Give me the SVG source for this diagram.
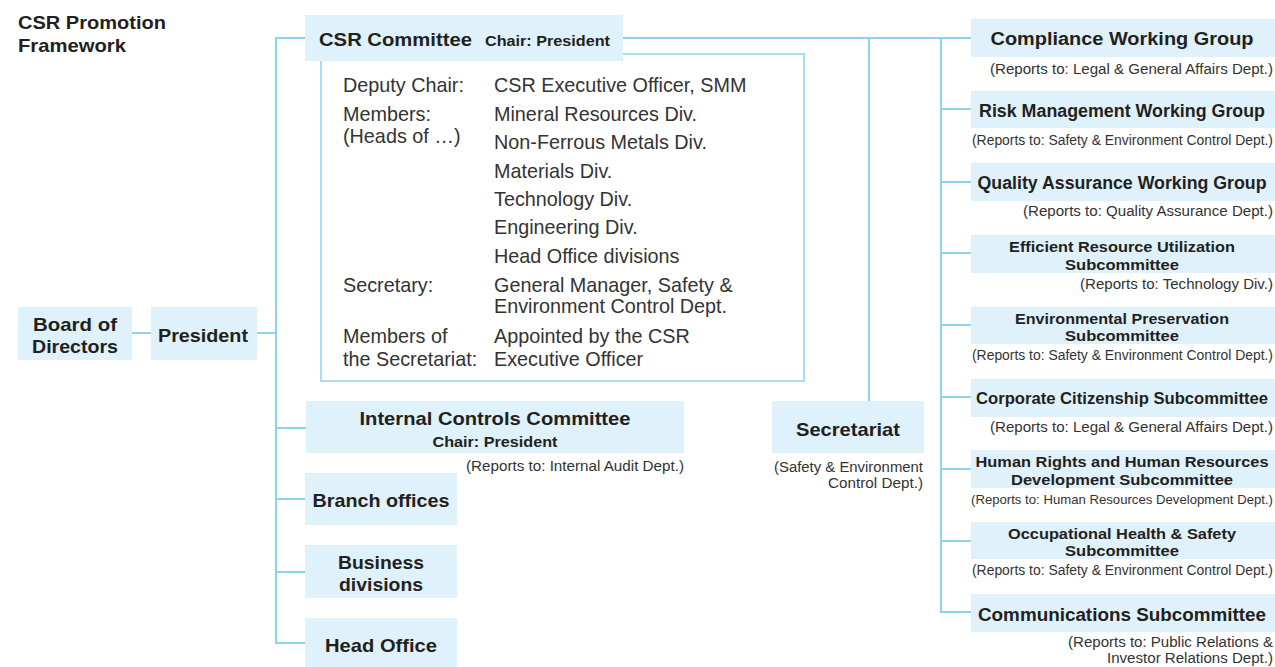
<svg xmlns="http://www.w3.org/2000/svg" width="1275" height="667" viewBox="0 0 1275 667">
  <style>
    text { font-family: "Liberation Sans", Arial, Helvetica, sans-serif; fill: #231f20; }
    .box { fill: #dff1fa; }
    .h { font-weight: bold; font-size: 19px; }
    .hr { font-weight: bold; font-size: 17.5px; }
    .hs { font-weight: bold; font-size: 15.5px; }
    .sub { font-weight: bold; font-size: 15px; }
    .note { font-size: 14px; fill: #333; }
    .body { font-size: 19.8px; fill: #333; }
    .c { text-anchor: middle; }
    .r { text-anchor: end; }
    .ln { stroke: #8ad4f1; stroke-width: 2; fill: none; }
    .frame { stroke: #a6def5; stroke-width: 2; fill: #fff; }
  </style>

  <!-- heading -->
  <g id="title">
    <text class="h" x="18" y="29" textLength="148" lengthAdjust="spacingAndGlyphs">CSR Promotion</text>
    <text class="h" x="18" y="52" textLength="108" lengthAdjust="spacingAndGlyphs">Framework</text>
  </g>

  <!-- connecting lines -->
  <g id="connectors" class="ln">
    <line x1="132" y1="333" x2="151" y2="333"/>
    <line x1="257" y1="333" x2="276" y2="333"/>
    <line x1="276" y1="37" x2="276" y2="644"/>
    <line x1="276" y1="38" x2="305" y2="38"/>
    <line x1="276" y1="428" x2="306" y2="428"/>
    <line x1="276" y1="499" x2="305" y2="499"/>
    <line x1="276" y1="572" x2="305" y2="572"/>
    <line x1="276" y1="643" x2="305" y2="643"/>
    <line x1="623" y1="38" x2="971" y2="38"/>
    <line x1="869" y1="38" x2="869" y2="401"/>
    <line x1="941" y1="38" x2="941" y2="613"/>
    <line x1="941" y1="109" x2="971" y2="109"/>
    <line x1="941" y1="182" x2="971" y2="182"/>
    <line x1="941" y1="253" x2="971" y2="253"/>
    <line x1="941" y1="325" x2="971" y2="325"/>
    <line x1="941" y1="397" x2="971" y2="397"/>
    <line x1="941" y1="469" x2="971" y2="469"/>
    <line x1="941" y1="541" x2="971" y2="541"/>
    <line x1="941" y1="612" x2="971" y2="612"/>
  </g>

  <g id="board">
    <rect class="box" x="18" y="307" width="114" height="53"/>
    <text class="h c" x="75" y="331" textLength="84" lengthAdjust="spacingAndGlyphs">Board of</text>
    <text class="h c" x="75" y="353" textLength="86" lengthAdjust="spacingAndGlyphs">Directors</text>
  </g>

  <g id="president">
    <rect class="box" x="151" y="307" width="106" height="53"/>
    <text class="h c" x="203" y="342" textLength="90" lengthAdjust="spacingAndGlyphs">President</text>
  </g>

  <g id="csr-committee">
    <rect class="frame" x="321" y="54" width="483" height="327"/>
    <rect class="box" x="305" y="15" width="318" height="46"/>
    <text class="h" x="319" y="46" textLength="153" lengthAdjust="spacingAndGlyphs">CSR Committee</text>
    <text class="sub" x="485" y="46" textLength="125" lengthAdjust="spacingAndGlyphs">Chair: President</text>
    <g class="members">
      <text class="body" x="343" y="92">Deputy Chair:</text>
      <text class="body" x="494" y="92">CSR Executive Officer, SMM</text>
      <text class="body" x="343" y="121">Members:</text>
      <text class="body" x="343" y="143">(Heads of …)</text>
      <text class="body" x="494" y="121">Mineral Resources Div.</text>
      <text class="body" x="494" y="149">Non-Ferrous Metals Div.</text>
      <text class="body" x="494" y="178">Materials Div.</text>
      <text class="body" x="494" y="206">Technology Div.</text>
      <text class="body" x="494" y="234">Engineering Div.</text>
      <text class="body" x="494" y="263">Head Office divisions</text>
      <text class="body" x="343" y="292">Secretary:</text>
      <text class="body" x="494" y="292">General Manager, Safety &amp;</text>
      <text class="body" x="494" y="313">Environment Control Dept.</text>
      <text class="body" x="343" y="343">Members of</text>
      <text class="body" x="343" y="366">the Secretariat:</text>
      <text class="body" x="494" y="343">Appointed by the CSR</text>
      <text class="body" x="494" y="366">Executive Officer</text>
    </g>
  </g>

  <g id="internal-controls">
    <rect class="box" x="306" y="401" width="378" height="52"/>
    <text class="h c" x="495" y="425" textLength="271" lengthAdjust="spacingAndGlyphs">Internal Controls Committee</text>
    <text class="sub c" x="495" y="447" textLength="125" lengthAdjust="spacingAndGlyphs">Chair: President</text>
    <text class="note r" x="684" y="471" textLength="218" lengthAdjust="spacingAndGlyphs">(Reports to: Internal Audit Dept.)</text>
  </g>

  <g id="branch-offices">
    <rect class="box" x="305" y="473" width="152" height="52"/>
    <text class="h c" x="381" y="507" textLength="137" lengthAdjust="spacingAndGlyphs">Branch offices</text>
  </g>

  <g id="business-divisions">
    <rect class="box" x="305" y="545" width="152" height="53"/>
    <text class="h c" x="381" y="569" textLength="86" lengthAdjust="spacingAndGlyphs">Business</text>
    <text class="h c" x="381" y="591" textLength="84" lengthAdjust="spacingAndGlyphs">divisions</text>
  </g>

  <g id="head-office">
    <rect class="box" x="305" y="618" width="152" height="50"/>
    <text class="h c" x="381" y="652" textLength="112" lengthAdjust="spacingAndGlyphs">Head Office</text>
  </g>

  <g id="secretariat">
    <rect class="box" x="772" y="401" width="152" height="52"/>
    <text class="h c" x="848" y="436" textLength="104" lengthAdjust="spacingAndGlyphs">Secretariat</text>
    <text class="note r" x="923" y="472" textLength="149" lengthAdjust="spacingAndGlyphs">(Safety &amp; Environment</text>
    <text class="note r" x="923" y="488" textLength="95" lengthAdjust="spacingAndGlyphs">Control Dept.)</text>
  </g>

  <g id="compliance-wg">
    <rect class="box" x="971" y="19" width="304" height="38"/>
    <text class="hr c" x="1122" y="45" textLength="263" lengthAdjust="spacingAndGlyphs">Compliance Working Group</text>
    <text class="note r" x="1273" y="74" textLength="283" lengthAdjust="spacingAndGlyphs">(Reports to: Legal &amp; General Affairs Dept.)</text>
  </g>

  <g id="risk-wg">
    <rect class="box" x="971" y="91" width="304" height="37"/>
    <text class="hr c" x="1122" y="117" textLength="286" lengthAdjust="spacingAndGlyphs">Risk Management Working Group</text>
    <text class="note r" x="1273" y="145" textLength="301" lengthAdjust="spacingAndGlyphs">(Reports to: Safety &amp; Environment Control Dept.)</text>
  </g>

  <g id="quality-wg">
    <rect class="box" x="971" y="163" width="304" height="38"/>
    <text class="hr c" x="1122" y="189" textLength="289" lengthAdjust="spacingAndGlyphs">Quality Assurance Working Group</text>
    <text class="note r" x="1273" y="216" textLength="250" lengthAdjust="spacingAndGlyphs">(Reports to: Quality Assurance Dept.)</text>
  </g>

  <g id="resource-sub">
    <rect class="box" x="971" y="235" width="304" height="38"/>
    <text class="hs c" x="1122" y="252" textLength="226" lengthAdjust="spacingAndGlyphs">Efficient Resource Utilization</text>
    <text class="hs c" x="1122" y="270" textLength="114" lengthAdjust="spacingAndGlyphs">Subcommittee</text>
    <text class="note r" x="1273" y="289" textLength="193" lengthAdjust="spacingAndGlyphs">(Reports to: Technology Div.)</text>
  </g>

  <g id="environment-sub">
    <rect class="box" x="971" y="307" width="304" height="37"/>
    <text class="hs c" x="1122" y="324" textLength="214" lengthAdjust="spacingAndGlyphs">Environmental Preservation</text>
    <text class="hs c" x="1122" y="341" textLength="114" lengthAdjust="spacingAndGlyphs">Subcommittee</text>
    <text class="note r" x="1273" y="360" textLength="301" lengthAdjust="spacingAndGlyphs">(Reports to: Safety &amp; Environment Control Dept.)</text>
  </g>

  <g id="citizenship-sub">
    <rect class="box" x="971" y="379" width="304" height="38"/>
    <text class="hr c" x="1122" y="404" style="font-size:17px" textLength="292" lengthAdjust="spacingAndGlyphs">Corporate Citizenship Subcommittee</text>
    <text class="note r" x="1273" y="432" textLength="283" lengthAdjust="spacingAndGlyphs">(Reports to: Legal &amp; General Affairs Dept.)</text>
  </g>

  <g id="human-rights-sub">
    <rect class="box" x="971" y="450" width="304" height="38"/>
    <text class="hs c" x="1122" y="467" textLength="293" lengthAdjust="spacingAndGlyphs">Human Rights and Human Resources</text>
    <text class="hs c" x="1122" y="485" textLength="222" lengthAdjust="spacingAndGlyphs">Development Subcommittee</text>
    <text class="note r" x="1273" y="504" style="font-size:13px" textLength="302" lengthAdjust="spacingAndGlyphs">(Reports to: Human Resources Development Dept.)</text>
  </g>

  <g id="safety-sub">
    <rect class="box" x="971" y="522" width="304" height="37"/>
    <text class="hs c" x="1122" y="539" textLength="228" lengthAdjust="spacingAndGlyphs">Occupational Health &amp; Safety</text>
    <text class="hs c" x="1122" y="556" textLength="114" lengthAdjust="spacingAndGlyphs">Subcommittee</text>
    <text class="note r" x="1273" y="575" textLength="301" lengthAdjust="spacingAndGlyphs">(Reports to: Safety &amp; Environment Control Dept.)</text>
  </g>

  <g id="communications-sub">
    <rect class="box" x="971" y="594" width="304" height="38"/>
    <text class="hr c" x="1122" y="621" textLength="288" lengthAdjust="spacingAndGlyphs">Communications Subcommittee</text>
    <text class="note r" x="1273" y="647" textLength="205" lengthAdjust="spacingAndGlyphs">(Reports to: Public Relations &amp;</text>
    <text class="note r" x="1273" y="663" textLength="166" lengthAdjust="spacingAndGlyphs">Investor Relations Dept.)</text>
  </g>
</svg>
